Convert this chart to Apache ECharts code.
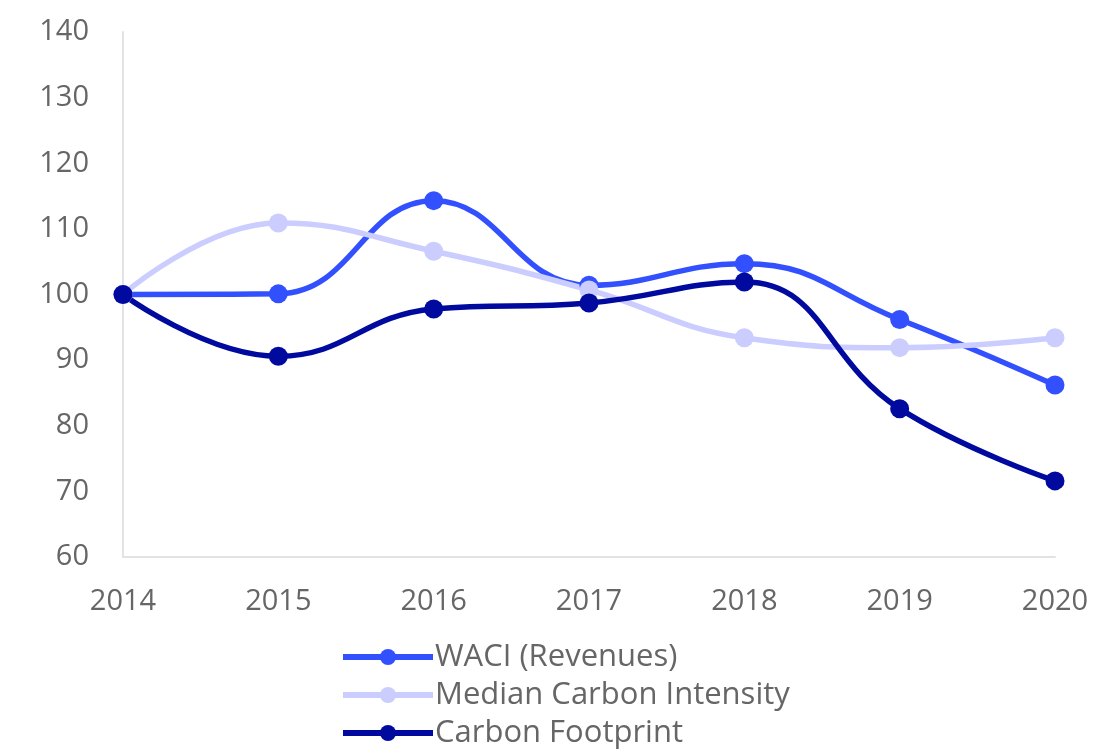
<!DOCTYPE html>
<html>
<head>
<meta charset="utf-8">
<script src="https://cdn.jsdelivr.net/npm/echarts@6/dist/echarts.min.js"></script>
<style>
  html, body { margin: 0; padding: 0; background: #fff; }
  #chart { width: 1103px; height: 753px; }
</style>
</head>
<body>
<div id="chart"></div>
<script>
const years = ['2014', '2015', '2016', '2017', '2018', '2019', '2020'];
const waci = [100, 100.1, 114.3, 101.4, 104.7, 96.2, 86.2];
const medianIntensity = [100, 110.9, 106.6, 100.7, 93.4, 91.9, 93.4];
const footprint = [100, 90.6, 97.8, 98.7, 101.9, 82.6, 71.6];

const chart = echarts.init(document.getElementById('chart'));

// shared series style
const makeSeries = (name, data, color) => ({
    name: name,
    type: 'line',
    data: data,
    smooth: 0.45,
    symbol: 'circle',
    symbolSize: 19,
    lineStyle: { width: 5.5, color: color },
    itemStyle: { color: color },
    emphasis: { disabled: true }
});

const option = {
    animation: false,
    textStyle: { fontFamily: 'Open Sans' },
    grid: { left: 123, right: 48, top: 32, bottom: 196 },
    xAxis: {
        type: 'category',
        data: years,
        boundaryGap: false,
        axisLine: { lineStyle: { color: '#e3e3e3', width: 2 } },
        axisTick: { show: false },
        axisLabel: { color: '#666', fontSize: 29, margin: 30 }
    },
    yAxis: {
        type: 'value',
        min: 60,
        max: 140,
        interval: 10,
        splitLine: { show: false },
        axisLine: { show: true, lineStyle: { color: '#e3e3e3', width: 2 } },
        axisTick: { show: false },
        axisLabel: { color: '#666', fontSize: 29, margin: 34 }
    },
    legend: {
        orient: 'vertical',
        left: 340,
        top: 640,
        itemWidth: 90,
        itemHeight: 20,
        itemGap: 4,
        padding: 0,
        lineStyle: { width: 6 },
        textStyle: { color: '#666', fontSize: 31, padding: [0, 0, 0, -3], lineHeight: 34 },
        data: ['WACI (Revenues)', 'Median Carbon Intensity', 'Carbon Footprint']
    },
    series: [
        makeSeries('WACI (Revenues)', waci, '#3350ff'),
        makeSeries('Median Carbon Intensity', medianIntensity, '#cccdff'),
        makeSeries('Carbon Footprint', footprint, '#000a9e')
    ]
};

chart.setOption(option);
</script>
</body>
</html>
